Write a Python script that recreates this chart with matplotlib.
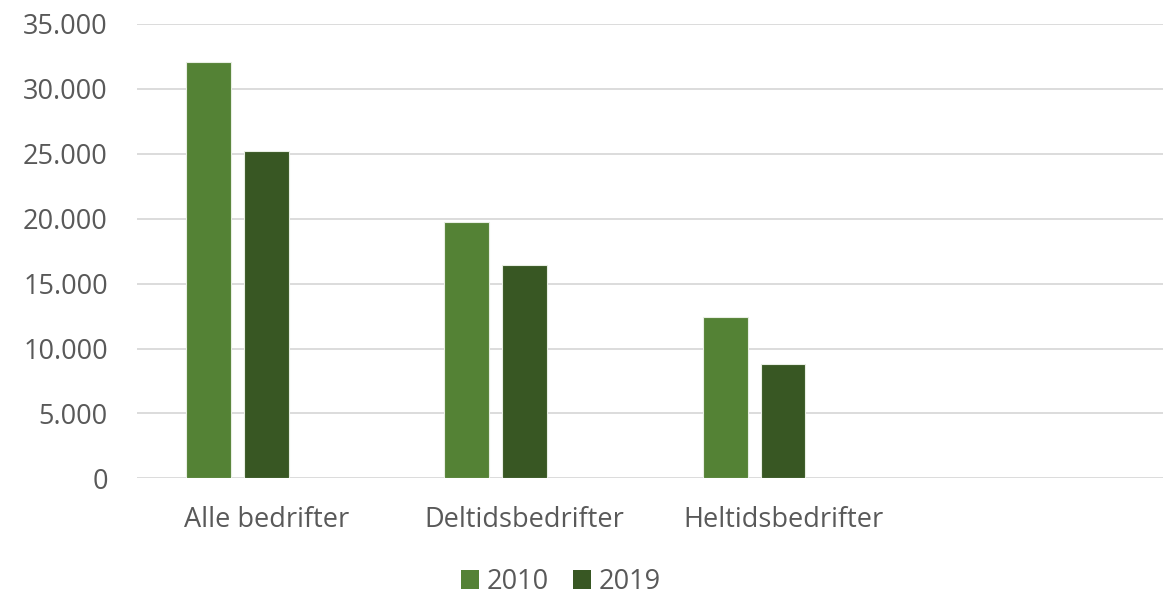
import numpy as np
import matplotlib.pyplot as plt
from matplotlib.ticker import MultipleLocator, FuncFormatter
from matplotlib.patches import Patch

plt.rcParams['font.family'] = ['Open Sans', 'DejaVu Sans']

categories = ['Alle bedrifter', 'Deltidsbedrifter', 'Heltidsbedrifter']
years = ['2010', '2019']
values_2010 = [32100, 19750, 12400]
values_2019 = [25200, 16400, 8780]
colors = ['#548235', '#385723']

TEXT = '#595959'
GRID = '#d9d9d9'

fig = plt.figure(figsize=(11.63, 5.98), dpi=100)
#axes run a little past the right edge, the original chart is cropped there
ax = fig.add_axes([137/1163, 1 - 478.3/598, 1026/1163, (478.3 - 24)/598])

x = np.arange(len(categories))
width = 0.174
step = 0.223
#excel layout with an empty third series: bars sit left of the category centre
for i, (vals, col) in enumerate(zip([values_2010, values_2019], colors)):
    ax.bar(x + (i - 1)*step, vals, width, color=col, edgecolor='#e8eee3',
           linewidth=0.8, zorder=3)

ax.set_xlim(-0.5, -0.5 + 1026/258.4)
ax.set_ylim(0, 35000)
ax.yaxis.set_major_locator(MultipleLocator(5000))
ax.yaxis.set_major_formatter(FuncFormatter(lambda v, p: f'{v:,.0f}'.replace(',', '.')))
ax.grid(axis='y', color=GRID, linewidth=1.3, zorder=0)
for s in ax.spines.values():
    s.set_visible(False)

ax.set_xticks(x)
ax.set_xticklabels(categories)
ax.tick_params(axis='both', length=0, labelsize=19.5, labelcolor=TEXT)
ax.tick_params(axis='y', pad=21)
ax.tick_params(axis='x', pad=20)

handles = [Patch(facecolor=c, label=y) for c, y in zip(colors, years)]
fig.legend(handles=handles, loc='center', bbox_to_anchor=(561/1163, 1 - 582/598),
           ncol=2, frameon=False, fontsize=19.5, labelcolor=TEXT,
           handlelength=0.65, handleheight=0.65, handletextpad=0.3,
           columnspacing=0.9, borderpad=0.2)

fig.savefig('out.png', dpi=100)
